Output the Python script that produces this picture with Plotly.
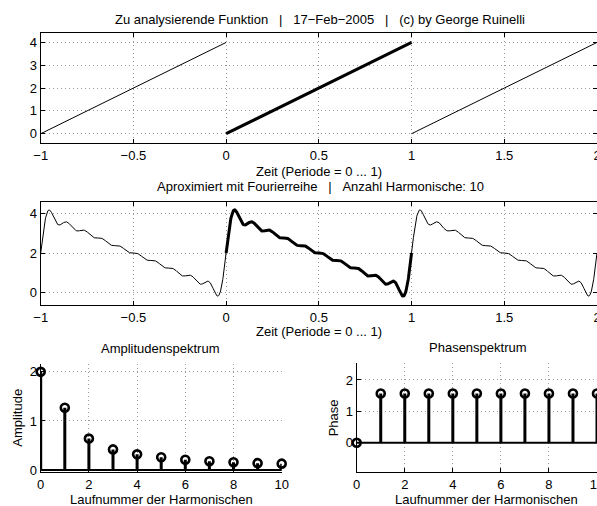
import numpy as np
import plotly.graph_objects as go

# ---------------- data ----------------
period_t = [0, 1]            # one period of the analysed function
period_f = [0, 4]
harmonic_no = [0, 1, 2, 3, 4, 5, 6, 7, 8, 9, 10]
amplitude = [2.0, 1.27, 0.64, 0.42, 0.32, 0.26, 0.21, 0.18, 0.16, 0.14, 0.13]
phase = [0, 1.57, 1.57, 1.57, 1.57, 1.57, 1.57, 1.57, 1.57, 1.57, 1.57]

time_ticks = [-1, -0.5, 0, 0.5, 1, 1.5, 2]
time_ticklabels = ["\u22121", "\u22120.5", "0", "0.5", "1", "1.5", "2"]
harm_ticks = [0, 2, 4, 6, 8, 10]

NB = "\u00a0"
title_top = f"Zu analysierende Funktion{NB*3}|{NB*3}17\u2212Feb\u22122005{NB*3}|{NB*3}(c) by George Ruinelli"
title_mid = f"Aproximiert mit Fourierreihe{NB*3}|{NB*3}Anzahl Harmonische: 10"
xlabel_time = "Zeit (Periode = 0 ... 1)"
xlabel_harm = "Laufnummer der Harmonischen"

# ---------------- derived ----------------
# Fourier series rebuilt from the spectrum
t = np.linspace(-1, 2, 1801)
approx = np.full_like(t, amplitude[0])
for k, a, p in zip(harmonic_no[1:], amplitude[1:], phase[1:]):
    approx += a * np.cos(2 * np.pi * k * t - p)
mask = (t >= 0) & (t <= 1)

FONT = "Liberation Sans, Arial, Helvetica, sans-serif"
FS = 13
W, H = 597, 506

fig = go.Figure()

# top: analysed function
thin_x, thin_y = [], []
for shift in (-1, 1):
    thin_x += [v + shift for v in period_t] + [None]
    thin_y += list(period_f) + [None]
fig.add_trace(go.Scatter(x=thin_x, y=thin_y, mode="lines",
                         line=dict(color="black", width=1), xaxis="x", yaxis="y"))
fig.add_trace(go.Scatter(x=period_t, y=period_f, mode="lines",
                         line=dict(color="black", width=3), xaxis="x", yaxis="y"))

# middle: Fourier approximation
fig.add_trace(go.Scatter(x=t, y=approx, mode="lines",
                         line=dict(color="black", width=1), xaxis="x2", yaxis="y2"))
fig.add_trace(go.Scatter(x=t[mask], y=approx[mask], mode="lines",
                         line=dict(color="black", width=3), xaxis="x2", yaxis="y2"))


def stems(vals, xa, ya):
    sx, sy = [], []
    for k, v in zip(harmonic_no, vals):
        sx += [k, k, None]
        sy += [0, v, None]
    fig.add_trace(go.Scatter(x=[harmonic_no[0], harmonic_no[-1]], y=[0, 0], mode="lines",
                             line=dict(color="black", width=2), xaxis=xa, yaxis=ya,
                             cliponaxis=False))
    fig.add_trace(go.Scatter(x=sx, y=sy, mode="lines",
                             line=dict(color="black", width=3), xaxis=xa, yaxis=ya))
    fig.add_trace(go.Scatter(x=harmonic_no, y=vals, mode="markers",
                             marker=dict(symbol="circle-open", size=8, color="black",
                                         line=dict(width=2.6, color="black")),
                             xaxis=xa, yaxis=ya, cliponaxis=False))


stems(amplitude, "x3", "y3")
stems(phase, "x4", "y4")

px = lambda v: v / W
py = lambda v: 1 - v / H

common = dict(showline=True, linecolor="black", linewidth=1, ticks="inside", ticklen=4,
              tickcolor="black", tickwidth=1, showgrid=True, gridcolor="#9a9a9a",
              griddash="1px,3px", gridwidth=1, zeroline=False, automargin=False,
              ticklabeloverflow="allow",
              tickfont=dict(family=FONT, size=FS, color="black"))

fig.update_layout(
    width=W, height=H, margin=dict(l=0, r=0, t=0, b=0, autoexpand=False),
    paper_bgcolor="white", plot_bgcolor="white", showlegend=False,
    font=dict(family=FONT, size=FS, color="black"),
    xaxis=dict(domain=[px(40.7), 1], range=[-1, 2], tickvals=time_ticks,
               ticktext=time_ticklabels, mirror="ticks", anchor="y", **common),
    yaxis=dict(domain=[py(143.3), py(33.3)], range=[-0.42, 4.4], tickvals=[0, 1, 2, 3, 4],
               mirror="ticks", anchor="x", **common),
    xaxis2=dict(domain=[px(40.7), 1], range=[-1, 2], tickvals=time_ticks,
                ticktext=time_ticklabels, mirror="ticks", anchor="y2", **common),
    yaxis2=dict(domain=[py(305), py(201.7)], range=[-0.62, 4.59], tickvals=[0, 2, 4],
                mirror="ticks", anchor="x2", **common),
    xaxis3=dict(domain=[px(40.7), px(281.7)], range=[0, 10], tickvals=harm_ticks,
                anchor="y3", **common),
    yaxis3=dict(domain=[py(472), py(363.5)], range=[-0.04, 2.17], tickvals=[0, 1, 2],
                anchor="x3", **common),
    xaxis4=dict(domain=[px(356.7), 1], range=[0, 10], tickvals=harm_ticks,
                anchor="y4", **common),
    yaxis4=dict(domain=[py(472), py(363)], range=[-0.93, 2.54], tickvals=[0, 1, 2],
                anchor="x4", **common),
)


def label(text, x, y, angle=0):
    fig.add_annotation(text=text, x=px(x), y=py(y), xref="paper", yref="paper",
                       xanchor="center", yanchor="middle", showarrow=False,
                       textangle=angle, font=dict(family=FONT, size=FS, color="black"))


label(title_top, 320, 19)
label(xlabel_time, 319, 171.7)
label(title_mid, 320.3, 186.7)
label(xlabel_time, 319, 331)
label("Amplitudenspektrum", 160.5, 348.3)
label(xlabel_harm, 161.5, 499.5)
label("Amplitude", 16.7, 418, -90)
label("Phasenspektrum", 477.8, 347.3)
label(xlabel_harm, 486, 499.5)
label("Phase", 333.3, 418, -90)

fig.write_html(
    "out.html",
    config={"displayModeBar": False},
    post_script="document.body.style.margin='0';document.body.style.overflow='hidden';",
)
